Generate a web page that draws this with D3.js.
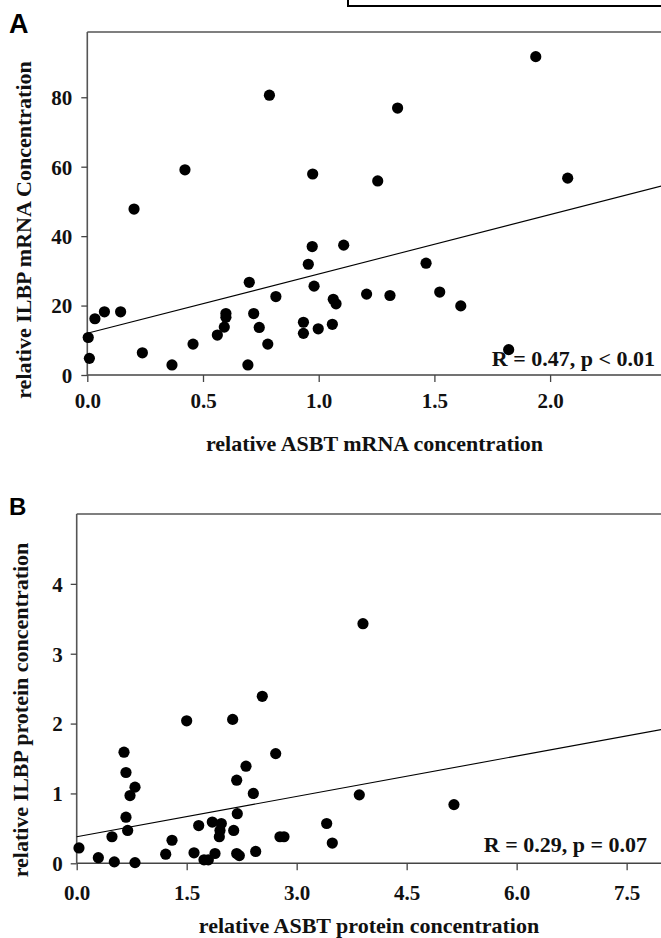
<!DOCTYPE html>
<html>
<head>
<meta charset="utf-8">
<script src="https://cdn.jsdelivr.net/npm/d3@7"></script>
<style>
  html, body { margin: 0; padding: 0; background: #fff; }
  svg { display: block; }
  .tick text { font-family: "Liberation Serif", "Times New Roman", serif; font-weight: bold; font-size: 21px; fill: #111; }
  .lbl { font-family: "Liberation Serif", "Times New Roman", serif; font-weight: bold; font-size: 22px; fill: #111; }
  .panel { font-family: "Liberation Sans", Arial, sans-serif; font-weight: bold; fill: #000; }
</style>
</head>
<body>
<svg id="chart" width="661" height="938"></svg>
<script>
// ---------- Panel A data: mRNA ----------
const asbtMrna = [0.004, 0.009, 0.033, 0.074, 0.144, 0.202, 0.238, 0.366, 0.422, 0.457,
  0.562, 0.592, 0.599, 0.599, 0.694, 0.700, 0.719, 0.743, 0.780, 0.787,
  0.815, 0.934, 0.934, 0.955, 0.972, 0.974, 0.980, 0.998, 1.059, 1.063,
  1.075, 1.108, 1.207, 1.255, 1.308, 1.341, 1.464, 1.523, 1.614, 1.821,
  1.938, 2.076];
const ilbpMrna = [10.8, 4.8, 16.2, 18.2, 18.2, 47.8, 6.4, 2.9, 59.1, 8.9,
  11.5, 13.8, 16.6, 17.7, 2.9, 26.7, 17.7, 13.7, 8.9, 80.6,
  22.6, 12.0, 15.2, 31.9, 37.0, 57.9, 25.6, 13.3, 14.6, 21.8,
  20.5, 37.4, 23.3, 55.9, 22.9, 76.9, 32.2, 23.9, 19.9, 7.3,
  91.7, 56.7];
const fitA = { intercept: 12.0, slope: 17.1 };
const xTicksA = [0, 0.5, 1.0, 1.5, 2.0];
const yTicksA = [0, 20, 40, 60, 80];
const statA = "R = 0.47, p < 0.01";

// ---------- Panel B data: protein ----------
const asbtProtein = [0.031, 0.295, 0.481, 0.513, 0.645, 0.672, 0.672, 0.695, 0.727, 0.795,
  0.795, 1.214, 1.300, 1.500, 1.600, 1.664, 1.736, 1.795, 1.849, 1.886,
  1.945, 1.954, 1.972, 2.127, 2.141, 2.182, 2.182, 2.190, 2.218, 2.309,
  2.409, 2.441, 2.531, 2.714, 2.772, 2.827, 3.409, 3.486, 3.854, 3.904,
  5.145];
const ilbpProtein = [0.22, 0.08, 0.38, 0.02, 1.59, 1.30, 0.66, 0.47, 0.97, 1.09,
  0.01, 0.13, 0.33, 2.04, 0.15, 0.54, 0.05, 0.05, 0.59, 0.14,
  0.38, 0.47, 0.57, 2.06, 0.47, 1.19, 0.14, 0.71, 0.11, 1.39,
  1.00, 0.17, 2.39, 1.57, 0.38, 0.38, 0.57, 0.29, 0.98, 3.43,
  0.84];
const fitB = { intercept: 0.38, slope: 0.1925 };
const xTicksB = [0, 1.5, 3.0, 4.5, 6.0, 7.5];
const yTicksB = [0, 1, 2, 3, 4];
const statB = "R = 0.29, p = 0.07";

const svg = d3.select("#chart");

// cropped box at the top
svg.append("rect").attr("x", 348).attr("y", -6).attr("width", 330).attr("height", 12)
  .attr("fill", "none").attr("stroke", "#000").attr("stroke-width", 2);

function panel(cfg) {
  const x = d3.scaleLinear().domain(cfg.xDomain).range([cfg.left, cfg.xEnd]);
  const y = d3.scaleLinear().domain(cfg.yDomain).range([cfg.bottom, cfg.top]);
  const g = svg.append("g");

  // top border
  g.append("line").attr("x1", cfg.left).attr("x2", 700).attr("y1", cfg.top).attr("y2", cfg.top)
    .attr("stroke", "#555").attr("stroke-width", 1.6);

  const xa = g.append("g").attr("transform", `translate(0,${cfg.bottom})`)
    .call(d3.axisBottom(x).tickValues(cfg.xTicks).tickFormat(d3.format(".1f")).tickSize(7).tickSizeOuter(0));
  xa.select(".domain").attr("stroke", "#444").attr("stroke-width", 1.6);
  xa.selectAll(".tick line").attr("stroke", "#444").attr("stroke-width", 1.3);
  xa.selectAll(".tick text").attr("y", cfg.xLabelY).attr("dy", null);

  const ya = g.append("g").attr("transform", `translate(${cfg.left},0)`)
    .call(d3.axisLeft(y).tickValues(cfg.yTicks).tickFormat(d3.format("d")).tickSize(6).tickSizeOuter(0));
  ya.select(".domain").attr("stroke", "#555").attr("stroke-width", 1.6);
  ya.selectAll(".tick line").attr("stroke", "#444").attr("stroke-width", 1.3);
  ya.selectAll(".tick text").attr("x", -cfg.yLabelGap).attr("dy", "0.35em");
  g.selectAll(".domain").attr("d", function() { return d3.select(this).attr("d"); });
  // extend y domain line to the top border
  ya.select(".domain").attr("d", `M0,${cfg.bottom}V${cfg.top}`);
  xa.select(".domain").attr("d", `M${cfg.left},0H700`);

  // regression line
  const x0 = cfg.xDomain[0], x1 = cfg.xDomain[1];
  g.append("line")
    .attr("x1", x(x0)).attr("y1", y(cfg.fit.intercept + cfg.fit.slope * x0))
    .attr("x2", x(x1)).attr("y2", y(cfg.fit.intercept + cfg.fit.slope * x1))
    .attr("stroke", "#000").attr("stroke-width", 1.1);

  // points
  g.selectAll("circle.pt").data(cfg.xs.map((v, i) => [v, cfg.ys[i]])).join("circle")
    .attr("class", "pt")
    .attr("cx", d => x(d[0])).attr("cy", d => y(d[1])).attr("r", 5.6).attr("fill", "#000");

  // stat text
  g.append("text").attr("class", "lbl").attr("text-anchor", "end")
    .attr("x", cfg.statX).attr("y", cfg.statY).text(cfg.stat);

  // axis titles
  g.append("text").attr("class", "lbl").attr("text-anchor", "middle")
    .attr("x", cfg.xTitleX).attr("y", cfg.xTitleY).text(cfg.xTitle);
  g.append("text").attr("class", "lbl").attr("text-anchor", "middle")
    .attr("transform", `translate(${cfg.yTitleX},${cfg.yTitleY}) rotate(-90)`).text(cfg.yTitle);

  // panel letter
  g.append("text").attr("class", "panel").attr("x", cfg.letterX).attr("y", cfg.letterY)
    .attr("font-size", cfg.letterSize).attr("font-family", cfg.letterFont).text(cfg.letter);
}

panel({
  xs: asbtMrna, ys: ilbpMrna, fit: fitA,
  xDomain: [0, 2.5], yDomain: [0, 98.8],
  left: 87.3, xEnd: 665.8, top: 32, bottom: 375,
  xTicks: xTicksA, yTicks: yTicksA, xLabelY: 33, yLabelGap: 15,
  stat: statA, statX: 655, statY: 366,
  xTitle: "relative ASBT mRNA concentration", xTitleX: 374.5, xTitleY: 451,
  yTitle: "relative ILBP mRNA Concentration", yTitleX: 31, yTitleY: 230,
  letter: "A", letterX: 9, letterY: 33, letterSize: 27, letterFont: "'Liberation Sans Narrow', 'DejaVu Sans Condensed', Arial, sans-serif"
});

panel({
  xs: asbtProtein, ys: ilbpProtein, fit: fitB,
  xDomain: [0, 8], yDomain: [0, 5],
  left: 76.7, xEnd: 663.3, top: 514, bottom: 863.3,
  xTicks: xTicksB, yTicks: yTicksB, xLabelY: 36.5, yLabelGap: 14,
  stat: statB, statX: 647, statY: 852,
  xTitle: "relative ASBT protein concentration", xTitleX: 369, xTitleY: 933,
  yTitle: "relative ILBP protein concentration", yTitleX: 28, yTitleY: 710,
  letter: "B", letterX: 9, letterY: 515, letterSize: 24, letterFont: "'Liberation Sans', Arial, sans-serif"
});
</script>
</body>
</html>
